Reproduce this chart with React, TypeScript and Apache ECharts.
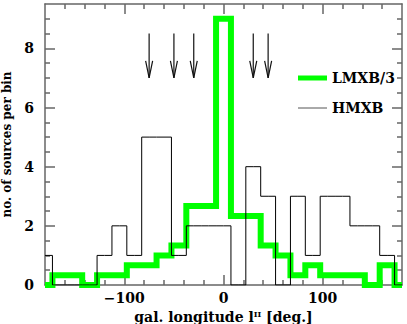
import React, { useEffect, useRef } from "react";
import * as echarts from "echarts";

// Bin centres (15 deg bins) in galactic longitude
const binCenters = [-180, -165, -150, -135, -120, -105, -90, -75, -60, -45, -30, -15, 0, 15, 30, 45, 60, 75, 90, 105, 120, 135, 150, 165, 180];
// HMXB counts per bin
const hmxbCounts = [1, 0, 0, 0, 1, 2, 1, 5, 5, 1, 2, 2, 2, 0, 4, 3, 0, 3, 1, 3, 3, 2, 2, 1, 0];
// LMXB counts per bin (plotted divided by 3)
const lmxbCounts = [0, 1, 1, 0, 1, 1, 2, 2, 3, 4, 8, 8, 27, 7, 7, 4, 3, 1, 2, 1, 1, 1, 0, 2, 0];
// Arrow positions (longitude) and their vertical extent
const arrowLongitudes = [-75, -50, -30, 30, 45];
const arrowTop = 8.5;
const arrowTip = 7.0;
// Tick values
const xMajorTicks = [-100, 0, 100];
const xMinorTicks = [-160, -140, -120, -80, -60, -40, -20, 20, 40, 60, 80, 120, 140, 160];
const yMajorTicks = [0, 2, 4, 6, 8];
const yMinorTicks = [0.5, 1, 1.5, 2.5, 3, 3.5, 4.5, 5, 5.5, 6.5, 7, 7.5, 8.5, 9];

const FONT = "DejaVu Serif";
const AXIS_COLOR = "#666";

export default function App() {
  const ref = useRef<HTMLDivElement>(null);

  useEffect(() => {
    if (!ref.current) return;
    const chart = echarts.init(ref.current, undefined, { renderer: "svg" });

    const hmxbData = binCenters.map((x, i) => [x, hmxbCounts[i]]);
    const lmxbData = binCenters.map((x, i) => [x, lmxbCounts[i] / 3]);
    const arrowData = arrowLongitudes.map((x) => [x, arrowTop, arrowTip]);

    const baseX = {
      type: "value" as const,
      min: -180,
      max: 180,
      splitLine: { show: false },
    };
    const baseY = {
      type: "value" as const,
      min: 0,
      max: 9.5,
      splitLine: { show: false },
    };
    const line = (show: boolean) => ({ show, onZero: false, lineStyle: { color: AXIS_COLOR, width: 1.5 } });
    const ticks = (len: number, vals: number[]) => ({
      show: true,
      inside: true,
      length: len,
      customValues: vals,
      lineStyle: { color: AXIS_COLOR, width: 1.5 },
    });

    const option: any = {
      animation: false,
      backgroundColor: "#fff",
      grid: { left: 45, right: 5, top: 4, bottom: 39, containLabel: false, outerBoundsMode: "none" },
      xAxis: [
        {
          ...baseX,
          position: "bottom",
          axisLine: line(true),
          axisTick: ticks(10, xMajorTicks),
          axisLabel: {
            show: true,
            customValues: xMajorTicks,
            margin: 6,
            color: "#000",
            fontFamily: FONT,
            fontWeight: "bold",
            fontSize: 14,
            formatter: (v: number) => (v < 0 ? "\u2212" + Math.abs(v) : String(v)),
          },
          name: "{a|gal. longitude l}{s|II}{a| [deg.]}",
          nameLocation: "middle",
          nameGap: 19,
          nameTextStyle: {
            rich: {
              a: { fontFamily: FONT, fontSize: 14, fontWeight: "bold", color: "#000" },
              s: { fontFamily: FONT, fontSize: 8, fontWeight: "bold", color: "#000", verticalAlign: "top", padding: [0, 0, 6, 0] },
            },
          },
        },
        { ...baseX, position: "bottom", axisLine: line(false), axisTick: ticks(5, xMinorTicks), axisLabel: { show: false } },
        { ...baseX, position: "top", axisLine: line(true), axisTick: ticks(10, xMajorTicks), axisLabel: { show: false } },
        { ...baseX, position: "top", axisLine: line(false), axisTick: ticks(5, xMinorTicks), axisLabel: { show: false } },
      ],
      yAxis: [
        {
          ...baseY,
          position: "left",
          axisLine: line(true),
          axisTick: ticks(10, yMajorTicks),
          axisLabel: {
            show: true,
            customValues: yMajorTicks,
            margin: 11,
            color: "#000",
            fontFamily: FONT,
            fontWeight: "bold",
            fontSize: 14,
          },
          name: "no. of sources per bin",
          nameLocation: "middle",
          nameGap: 23,
          nameTextStyle: { fontFamily: FONT, fontSize: 12, fontWeight: "bold", color: "#000" },
        },
        { ...baseY, position: "left", axisLine: line(false), axisTick: ticks(5, yMinorTicks), axisLabel: { show: false } },
        { ...baseY, position: "right", axisLine: line(true), axisTick: ticks(10, yMajorTicks), axisLabel: { show: false } },
        { ...baseY, position: "right", axisLine: line(false), axisTick: ticks(5, yMinorTicks), axisLabel: { show: false } },
      ],
      series: [
        {
          name: "LMXB/3",
          type: "line",
          step: "middle",
          data: lmxbData,
          symbol: "none",
          clip: false,
          lineStyle: { color: "#00ff00", width: 6, join: "miter", cap: "butt" },
          z: 2,
        },
        {
          name: "HMXB",
          type: "line",
          step: "middle",
          data: hmxbData,
          symbol: "none",
          lineStyle: { color: "#000", width: 1 },
          z: 3,
        },
        {
          name: "arrows",
          type: "custom",
          data: arrowData,
          clip: false,
          z: 4,
          renderItem: (params: any, api: any) => {
            const x = api.value(0);
            const top = api.coord([x, api.value(1)]);
            const tip = api.coord([x, api.value(2)]);
            return {
              type: "group",
              children: [
                {
                  type: "line",
                  shape: { x1: top[0], y1: top[1], x2: tip[0], y2: tip[1] },
                  style: { stroke: "#111", lineWidth: 1.2 },
                },
                {
                  type: "polyline",
                  shape: { points: [[tip[0] - 3.5, tip[1] - 17], [tip[0], tip[1]], [tip[0] + 3.5, tip[1] - 17]] },
                  style: { stroke: "#111", lineWidth: 1.2, fill: "none" },
                },
              ],
            };
          },
        },
      ],
      graphic: [
        { type: "line", shape: { x1: 298, y1: 78, x2: 327, y2: 78 }, style: { stroke: "#00ff00", lineWidth: 5 } },
        { type: "text", x: 332, y: 78, style: { text: "LMXB/3", fill: "#000", font: `bold 14px "${FONT}"`, textVerticalAlign: "middle" } },
        { type: "line", shape: { x1: 298, y1: 108, x2: 327, y2: 108 }, style: { stroke: "#555", lineWidth: 1 } },
        { type: "text", x: 332, y: 108, style: { text: "HMXB", fill: "#000", font: `bold 14px "${FONT}"`, textVerticalAlign: "middle" } },
      ],
    };

    chart.setOption(option);
    return () => chart.dispose();
  }, []);

  return <div ref={ref} style={{ position: "fixed", left: 0, top: 0, width: 407, height: 324 }} />;
}
